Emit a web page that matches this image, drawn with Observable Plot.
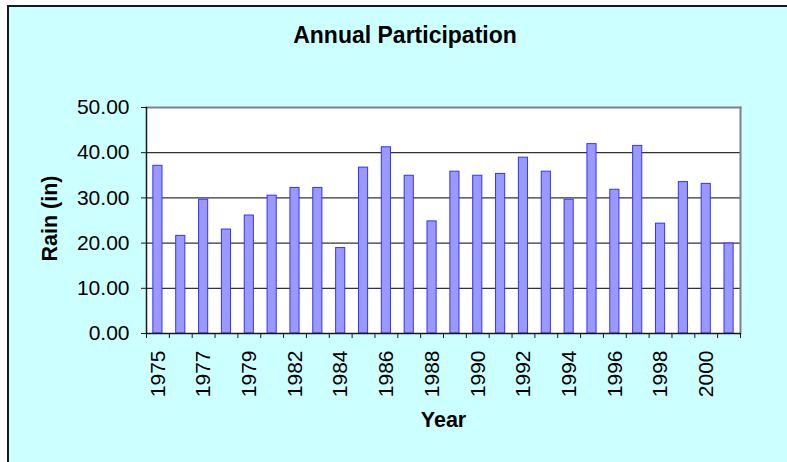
<!DOCTYPE html>
<html>
<head>
<meta charset="utf-8">
<script src="https://cdn.jsdelivr.net/npm/d3@7"></script>
<script src="https://cdn.jsdelivr.net/npm/@observablehq/plot@0.6"></script>
<style>
  html, body { margin: 0; padding: 0; background: #fff; overflow: hidden; }
  #box {
    position: absolute; left: 7px; top: 5px; width: 820px; height: 480px;
    border-top: 2px solid #1a1a1a; border-left: 2px solid #1a1a1a;
    background: #CCFFFF;
  }
  #title {
    position: absolute; left: 0; top: 24px; width: 810px; text-align: center;
    font: bold 23px "Liberation Sans", Arial, sans-serif; line-height: 23px; color: #000;
  }
  #chart { position: absolute; left: 0; top: 0; }
</style>
</head>
<body>
<div id="box"></div>
<div id="title">Annual Participation</div>
<div id="chart"></div>
<script>
const years = ["1975","1976","1977","1978","1979","1981","1982","1983","1984","1985","1986","1987","1988","1989","1990","1991","1992","1993","1994","1995","1996","1997","1998","1999","2000","2001"];
const rain = [37.1, 21.6, 29.6, 23.0, 26.1, 30.5, 32.2, 32.2, 18.9, 36.7, 41.2, 34.9, 24.8, 35.8, 34.9, 35.3, 38.9, 35.8, 29.6, 41.9, 31.8, 41.5, 24.3, 33.5, 33.1, 19.9];
const yTicks = [0, 10, 20, 30, 40, 50];
const gridValues = [10, 20, 30, 40];
const xLabelYears = years.filter((d, i) => i % 2 === 0);
const title = "Annual Participation";
const yLabel = "Rain (in)";
const xLabel = "Year";

const data = years.map((y, i) => ({year: y, rain: rain[i]}));
const font = '"Liberation Sans", Arial, sans-serif';

function build(step) {
  const marks = [
    Plot.frame({fill: "white", stroke: null}),
    Plot.gridY({ticks: gridValues, stroke: "#333", strokeOpacity: 1, strokeWidth: 1.2}),
    Plot.frame({anchor: "top", stroke: "#808080", strokeWidth: 2}),
    Plot.frame({anchor: "right", stroke: "#808080", strokeWidth: 2}),
    Plot.barY(data, {x: "year", y: "rain", fill: "#9999FF", stroke: "#3333FF", strokeWidth: 1}),
    Plot.frame({anchor: "left", stroke: "#1a1a1a", strokeWidth: 1.5}),
    Plot.ruleY([0], {stroke: "#1a1a1a", strokeWidth: 1.5}),
    Plot.axisY({ticks: yTicks, tickFormat: d3.format(".2f"), tickSize: 5, tickPadding: 12,
      fontSize: 21, label: null, stroke: "#1a1a1a", fill: "#000"}),
    Plot.axisX({ticks: xLabelYears, tickSize: 0, tickPadding: 17, tickRotate: -90,
      fontSize: 21, label: null, fill: "#000"}),
    Plot.text([yLabel], {frameAnchor: "left", rotate: -90, dx: -96, dy: -2, text: d => d,
      fontSize: 21.5, fontWeight: "bold", fill: "#000", lineAnchor: "middle", textAnchor: "middle"}),
    Plot.text([xLabel], {frameAnchor: "bottom", dy: 87, text: d => d,
      fontSize: 21.5, fontWeight: "bold", fill: "#000", lineAnchor: "middle", textAnchor: "middle"})
  ];
  if (step) {
    marks.push(Plot.axisX({tickSize: 5, text: null, dx: -step / 2, stroke: "#1a1a1a", label: null}));
    marks.push(Plot.axisX({ticks: [years[years.length - 1]], tickSize: 5, text: null, dx: step / 2, stroke: "#1a1a1a", label: null}));
  }
  return Plot.plot({
    width: 787, height: 462,
    marginLeft: 146, marginRight: 47, marginTop: 107, marginBottom: 129,
    style: {background: "transparent", fontFamily: font, overflow: "visible"},
    x: {type: "band", domain: years, paddingInner: 0.6, paddingOuter: 0.3, round: false, axis: null},
    y: {domain: [0, 50], axis: null},
    marks
  });
}

const first = build(0);
const step = first.scale("x").step;
document.getElementById("chart").appendChild(build(step));
</script>
</body>
</html>
